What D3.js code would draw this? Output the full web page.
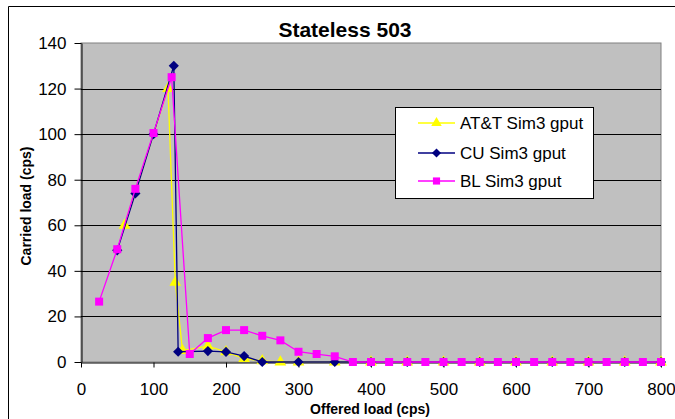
<!DOCTYPE html>
<html><head><meta charset="utf-8">
<script src="https://cdn.jsdelivr.net/npm/d3@7"></script>
<style>body{margin:0;background:#fff;} text{font-family:"Liberation Sans",Arial,sans-serif;}</style>
</head><body>
<svg id="c" width="675" height="419"></svg>
<script>
const attX = [60,120,130,140,175,200,225,250,275,300,350,400,450,500,550,600,650,700,750,800];
const attY = [60,120,35,5,7,4.5,1.5,0.5,0,0,0,0,0,0,0,0,0,0,0,0];
const cuX = [50,75,100,128,134,175,200,225,250,300,350,400,450,500,550,600,650,700,750,800];
const cuY = [49,74,100,130,4.5,4.8,4.4,2.6,0,0,0,0,0,0,0,0,0,0,0,0];
const blX = [25,50,75,100,125,150,175,200,225,250,275,300,325,350,375,400,425,450,475,500,525,550,575,600,625,650,675,700,725,750,775,800];
const blY = [26.5,49.5,76,100.5,125,3.5,10.5,14,14,11.5,9.5,4.5,3.5,2.5,0,0,0,0,0,0,0,0,0,0,0,0,0,0,0,0,0,0];
const seriesNames = ["AT&T Sim3 gput","CU Sim3 gput","BL Sim3 gput"];
const xTicks = [0,100,200,300,400,500,600,700,800];
const yTicks = [0,20,40,60,80,100,120,140];

const svg = d3.select("#c");
const L=81,R=661,T=43,B=362;
const x = d3.scaleLinear().domain([0,800]).range([L,R]);
const y = d3.scaleLinear().domain([0,140]).range([B,T]);

// outer frame
svg.append("path").attr("d","M8.5,419 V6.5 H675").attr("fill","none").attr("stroke","#000");

// title
svg.append("text").attr("x",345).attr("y",37).attr("text-anchor","middle")
  .attr("font-size",21).attr("font-weight","bold").text("Stateless 503");

// plot bg
svg.append("rect").attr("x",L).attr("y",T).attr("width",R-L).attr("height",B-T)
  .attr("fill","#c0c0c0").attr("stroke","#808080");

// grid
svg.append("g").selectAll("line").data(yTicks.filter(d=>d>0&&d<140)).join("line")
  .attr("x1",L).attr("x2",R).attr("y1",d=>Math.round(y(d))+0.5).attr("y2",d=>Math.round(y(d))+0.5)
  .attr("stroke","#000");

// axes
const ya = svg.append("g").attr("transform",`translate(${L+0.5},0)`)
  .call(d3.axisLeft(y).tickValues(yTicks).tickSize(7).tickPadding(8).tickSizeOuter(0));
const xa = svg.append("g").attr("transform",`translate(0,${B+0.5})`)
  .call(d3.axisBottom(x).tickValues(xTicks).tickSize(5).tickPadding(15).tickSizeOuter(0));
[ya,xa].forEach(a=>{a.selectAll("text").attr("font-size",17).attr("fill","#000")
  .attr("font-family","'Liberation Sans',Arial,sans-serif");
  a.select(".domain").attr("stroke","#000");a.selectAll(".tick line").attr("stroke","#000");});

// axis titles
svg.append("text").attr("transform","translate(31,206) rotate(-90)").attr("text-anchor","middle")
  .attr("font-size",14).attr("font-weight","bold").text("Carried load (cps)");
svg.append("text").attr("x",370).attr("y",414).attr("text-anchor","middle")
  .attr("font-size",14).attr("font-weight","bold").text("Offered load (cps)");

const colors = ["#ffff00","#000080","#ff00ff"];
const data = [d3.zip(attX,attY), d3.zip(cuX,cuY), d3.zip(blX,blY)];
const shapes = [d3.symbolTriangle, d3.symbolSquare, d3.symbolSquare];
const rot = [0,45,0];
const sizes = [60, 52, 64];
const line = d3.line().x(d=>x(d[0])).y(d=>y(d[1]));
data.forEach((ds,i)=>{
  const g = svg.append("g");
  g.append("path").attr("d",line(ds)).attr("fill","none").attr("stroke",colors[i]).attr("stroke-width",1.3);
  g.selectAll("path.m").data(ds).join("path").attr("class","m")
    .attr("transform",d=>`translate(${x(d[0])},${y(d[1])}) rotate(${rot[i]})`)
    .attr("d",d3.symbol(shapes[i],sizes[i])).attr("fill",colors[i]);
});

// legend
const lg = svg.append("g");
lg.append("rect").attr("x",395.5).attr("y",107.5).attr("width",198).attr("height",91)
  .attr("fill","#fff").attr("stroke","#000");
const rowsY = [123,153,181];
seriesNames.forEach((n,i)=>{
  lg.append("line").attr("x1",418).attr("x2",455).attr("y1",rowsY[i]).attr("y2",rowsY[i])
    .attr("stroke",colors[i]).attr("stroke-width",1.3);
  lg.append("path").attr("transform",`translate(436.5,${rowsY[i]}) rotate(${rot[i]})`)
    .attr("d",d3.symbol(shapes[i],sizes[i]*0.8)).attr("fill",colors[i]);
  lg.append("text").attr("x",460).attr("y",rowsY[i]+6).attr("font-size",17).text(n);
});
</script>
</body></html>
